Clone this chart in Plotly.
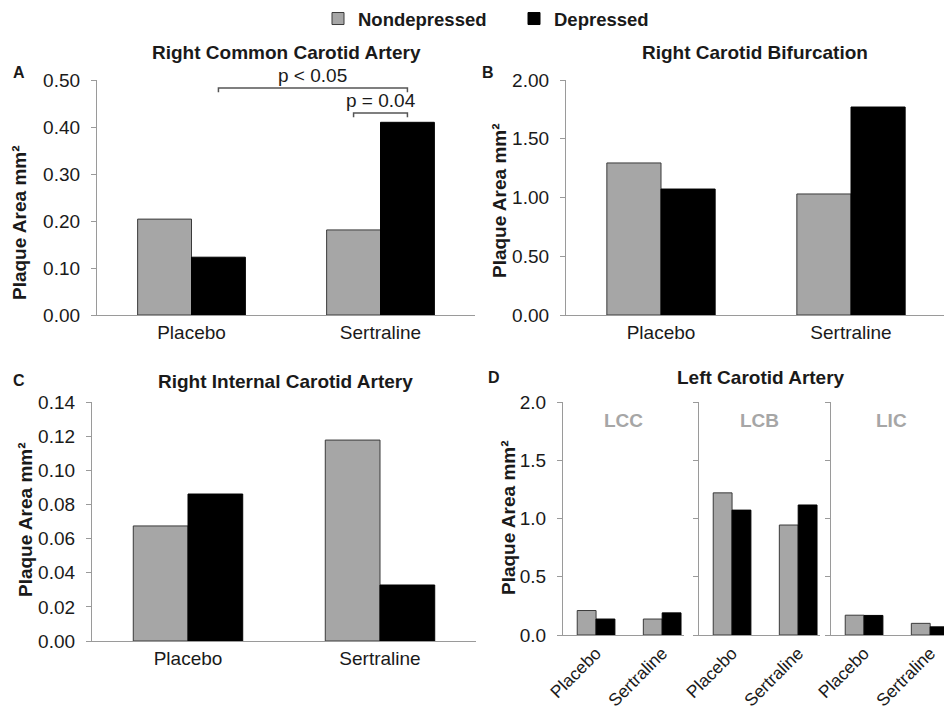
import plotly.graph_objects as go

# the page adds an 8 px body margin, so the figure is drawn 8 px in from the top-left
OFF = 8
W, H = 952 - OFF, 715 - OFF

# ---------------- data ----------------
groups = ["Placebo", "Sertraline"]
series_names = ["Nondepressed", "Depressed"]

rcca_nondep = [0.204, 0.181]
rcca_dep = [0.123, 0.410]

rcb_nondep = [1.294, 1.030]
rcb_dep = [1.072, 1.770]

rica_nondep = [0.0674, 0.1177]
rica_dep = [0.0861, 0.0328]

lcc_nondep = [0.21, 0.137]
lcc_dep = [0.137, 0.19]
lcb_nondep = [1.22, 0.944]
lcb_dep = [1.072, 1.116]
lic_nondep = [0.17, 0.10]
lic_dep = [0.168, 0.07]

ticks_a = [0.0, 0.1, 0.2, 0.3, 0.4, 0.5]
ticks_b = [0.0, 0.5, 1.0, 1.5, 2.0]
ticks_c = [0.0, 0.02, 0.04, 0.06, 0.08, 0.10, 0.12, 0.14]
ticks_d = [0.0, 0.5, 1.0, 1.5, 2.0]

sig_labels = ["p < 0.05", "p = 0.04"]
sig_heights = [0.483, 0.430]
sig_drop = 0.009

sub_labels = ["LCC", "LCB", "LIC"]

# ---------------- styling ----------------
GRAY = "#a6a6a6"
BLACK = "#000000"
AXIS = "#9a9a9a"
FONT = "Liberation Sans, Arial, sans-serif"
TXT = "#1a1a1a"
BARGAP = 0.43


def px(x):
    return min(1.0, (x - OFF) / W)


def py(y):
    return 1 - (y - OFF) / H


fig = go.Figure()

panels = [
    ("", rcca_nondep, rcca_dep, (97, 475), (80, 315), [0, 0.5], ticks_a, "{:.2f}", [-0.5, 1.5], True, 0),
    ("2", rcb_nondep, rcb_dep, (566, 946), (80, 315), [0, 2], ticks_b, "{:.2f}", [-0.5, 1.5], True, 0),
    ("3", rica_nondep, rica_dep, (92, 476), (402, 641), [0, 0.14], ticks_c, "{:.2f}", [-0.5, 1.5], True, 0),
    ("4", lcc_nondep, lcc_dep, (563, 684), (402, 635), [0, 2], ticks_d, "{:.1f}", [-0.5, 1.33], True, -45),
    ("5", lcb_nondep, lcb_dep, (699, 820), (402, 635), [0, 2], ticks_d, "{:.1f}", [-0.5, 1.33], False, -45),
    ("6", lic_nondep, lic_dep, (831, 952), (402, 635), [0, 2], ticks_d, "{:.1f}", [-0.5, 1.33], False, -45),
]

layout_axes = {}
for i, (sfx, nd, dp, xd, yd, yr, tks, fmt, xr, showlab, tang) in enumerate(panels):
    xa = "x" + sfx
    ya = "y" + sfx
    fig.add_trace(go.Bar(
        x=groups, y=nd, name=series_names[0], xaxis=xa, yaxis=ya,
        marker=dict(color=GRAY, line=dict(color="#3a3a3a", width=1)),
        showlegend=(i == 0), legendgroup="nd", hoverinfo="x+y+name",
    ))
    fig.add_trace(go.Bar(
        x=groups, y=dp, name=series_names[1], xaxis=xa, yaxis=ya,
        marker=dict(color=BLACK, line=dict(color=BLACK, width=1)),
        showlegend=(i == 0), legendgroup="d", hoverinfo="x+y+name",
    ))
    xkey = "xaxis" + sfx
    ykey = "yaxis" + sfx
    layout_axes[xkey] = dict(
        domain=[px(xd[0]), px(xd[1])], anchor=ya, range=xr, type="category",
        showline=True, linecolor=AXIS, linewidth=1.3, ticks="", showgrid=False,
        tickfont=dict(family=FONT, size=19 if tang == 0 else 17.5, color=TXT),
        tickangle=tang, fixedrange=True, automargin=False,
    )
    layout_axes[ykey] = dict(
        domain=[py(yd[1]), py(yd[0])], anchor=xa, range=yr,
        showline=True, linecolor=AXIS, linewidth=1.3, ticks="outside", ticklen=5,
        tickcolor=AXIS, tickwidth=1.3, showgrid=False, zeroline=False,
        tickvals=tks, ticktext=[fmt.format(t) for t in tks], showticklabels=showlab,
        tickfont=dict(family=FONT, size=19, color=TXT), ticklabelstandoff=7,
        fixedrange=True, automargin=False,
    )

fig.update_layout(**layout_axes)

# significance brackets in panel A, positioned from bar offsets
half = (1 - BARGAP) / 4  # offset of each bar centre within a group
bracket_pairs = [(0 + half, 1 + half), (1 - half, 1 + half)]
for (x0, x1), yh, lab in zip(bracket_pairs, sig_heights, sig_labels):
    fig.add_shape(type="path", xref="x", yref="y",
                  path=f"M {x0},{yh - sig_drop} L {x0},{yh} L {x1},{yh} L {x1},{yh - sig_drop}",
                  line=dict(color="#555555", width=1.5))
    fig.add_annotation(x=(x0 + x1) / 2, y=yh, xref="x", yref="y", text=lab,
                       showarrow=False, yanchor="bottom", yshift=0,
                       font=dict(family=FONT, size=19, color=TXT))

annotations = []
titles = [
    ("Right Common Carotid Artery", 286, 53),
    ("Right Carotid Bifurcation", 755, 53),
    ("Right Internal Carotid Artery", 285, 381),
    ("Left Carotid Artery", 761, 377),
]
for t, x, y in titles:
    annotations.append(dict(text=f"<b>{t}</b>", x=px(x), y=py(y), xref="paper", yref="paper",
                            showarrow=False, xanchor="center", yanchor="middle",
                            font=dict(family=FONT, size=19, color=TXT)))
letters = [("A", 19, 72), ("B", 488, 72), ("C", 19, 380), ("D", 494, 377)]
for t, x, y in letters:
    annotations.append(dict(text=f"<b>{t}</b>", x=px(x), y=py(y), xref="paper", yref="paper",
                            showarrow=False, xanchor="center", yanchor="middle",
                            font=dict(family=FONT, size=16, color=TXT)))
ytitles = [(20, 223), (499, 201), (25, 520), (508, 518)]
for x, y in ytitles:
    annotations.append(dict(text="<b>Plaque Area mm²</b>", x=px(x), y=py(y), xref="paper", yref="paper",
                            showarrow=False, textangle=-90, xanchor="center", yanchor="middle",
                            font=dict(family=FONT, size=19, color=TXT)))
for lab, ax in zip(sub_labels, ["4", "5", "6"]):
    annotations.append(dict(text=f"<b>{lab}</b>", x=0.5, y=1.0, xref=f"x{ax} domain", yref=f"y{ax} domain",
                            showarrow=False, xanchor="center", yanchor="top", yshift=-6,
                            font=dict(family=FONT, size=19, color="#a6a6a6")))

for a in annotations:
    fig.add_annotation(**a)

fig.update_layout(
    width=W, height=H,
    margin=dict(l=0, r=0, t=0, b=0, autoexpand=False),
    paper_bgcolor="white", plot_bgcolor="white",
    barmode="group", bargap=BARGAP, bargroupgap=0,
    showlegend=True,
    legend=dict(orientation="h", x=px(514), xanchor="center", y=py(0), yanchor="top",
                font=dict(family=FONT, size=18.5, color=TXT, weight="bold"),
                bgcolor="rgba(0,0,0,0)", itemwidth=30, entrywidth=151),
)

fig.write_html("out.html")
